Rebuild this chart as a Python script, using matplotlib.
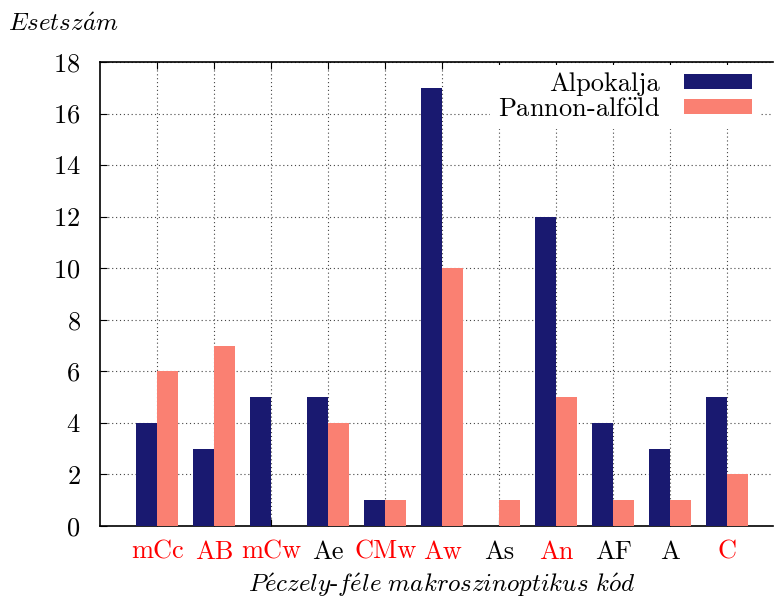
import numpy as np
import matplotlib
matplotlib.use("Agg")
import matplotlib.pyplot as plt

plt.rcParams['font.family'] = ['cmr10', 'DejaVu Serif']
plt.rcParams['mathtext.fontset'] = 'cm'
plt.rcParams['axes.formatter.use_mathtext'] = True

categories = ['mCc', 'AB', 'mCw', 'Ae', 'CMw', 'Aw', 'As', 'An', 'AF', 'A', 'C']
red_labels = ['mCc', 'AB', 'mCw', 'CMw', 'Aw', 'An', 'C']
alpokalja = [4, 3, 5, 5, 1, 17, 0, 12, 4, 3, 5]
pannon = [6, 7, 0, 4, 1, 10, 1, 5, 1, 1, 2]

x = np.arange(len(categories))
w = 0.37

fig = plt.figure(figsize=(7.74, 6.01), dpi=100)
ax = fig.add_axes([100/774, 75/601, 673/774, 464/601])

ax.bar(x - w/2, alpokalja, w, color='#191970', label='Alpokalja', zorder=3)
ax.bar(x + w/2, pannon, w, color='#fa8072', label=r'Pannon-alf$\ddot{\mathrm{o}}$ld', zorder=3)

ax.set_xlim(-1, 10.8)
ax.set_ylim(0, 18)
ax.set_yticks(range(0, 19, 2))
ax.set_xticks(x)
ax.set_xticklabels(categories)
for t in ax.get_xticklabels():
    if t.get_text() in red_labels:
        t.set_color('red')

ax.grid(True, linestyle=(0, (1, 2.5)), color='#444444', linewidth=0.8, zorder=0)
ax.tick_params(axis='both', direction='in', labelsize=19, length=5, top=True)
ax.tick_params(axis='x', pad=10)
ax.tick_params(axis='y', pad=14)
ax.spines['right'].set_visible(False)
for s in ['left', 'top', 'bottom']:
    ax.spines[s].set_linewidth(1.2)

fig.text(8/774, 1 - 25/601, r'$\mathit{Esetsz\acute{a}m}$', fontsize=18, va='center', ha='left')
fig.text(442/774, 1 - 585/601,
         r'$\mathit{P\acute{e}czely}$-$\mathit{f\acute{e}le\ makroszinoptikus\ k\acute{o}d}$',
         fontsize=18, va='center', ha='center')

leg = ax.legend(loc='upper right', markerfirst=False, fontsize=19, frameon=True,
                facecolor='white', edgecolor='none', framealpha=1, fancybox=False,
                handlelength=2.6, handleheight=0.5, labelspacing=0.05,
                borderaxespad=0.1, borderpad=0.3, handletextpad=0.9,
                bbox_to_anchor=(0.985, 1.0))
leg.set_zorder(5)

fig.savefig('out.png', dpi=100)
